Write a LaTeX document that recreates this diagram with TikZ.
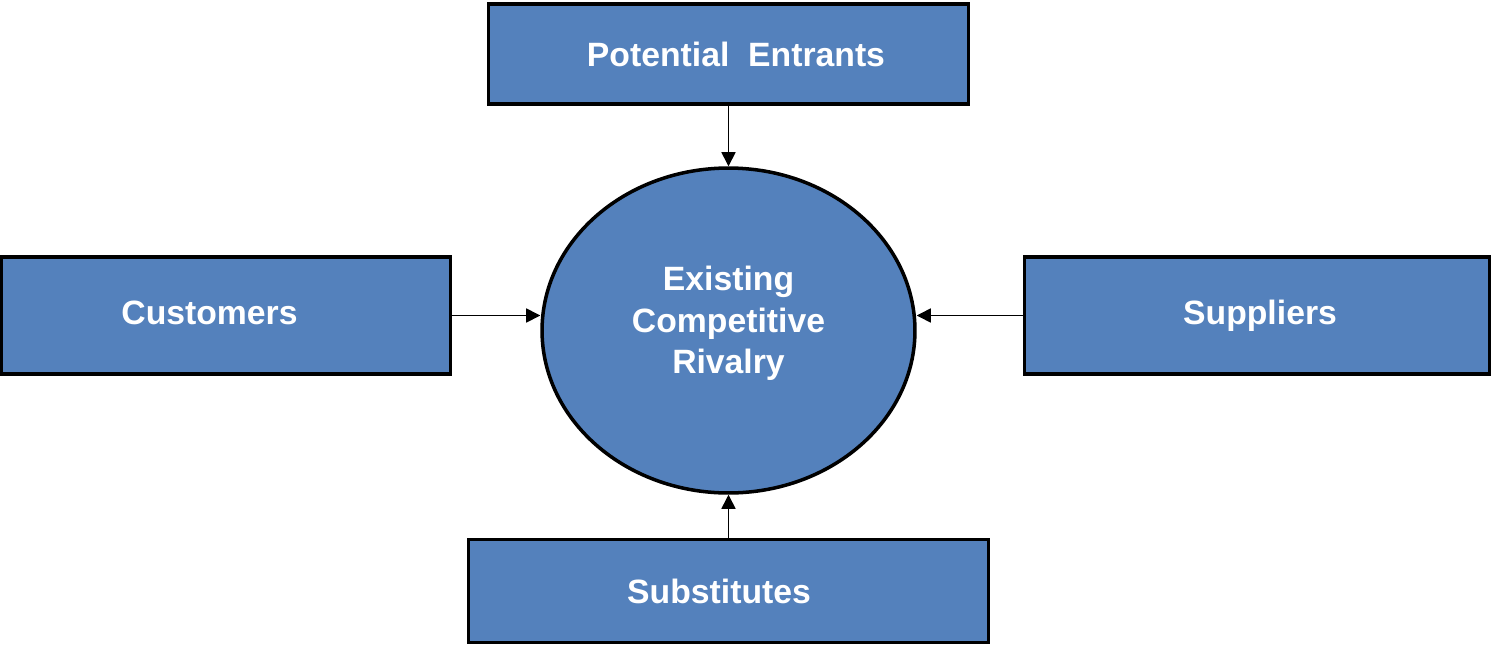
\documentclass[tikz,border=0pt]{standalone}
\usepackage{fontspec}
\setmainfont{Liberation Sans}
\usepackage{tikz}
\usetikzlibrary{shapes.geometric, arrows.meta}
\definecolor{forceblue}{RGB}{84,129,188}

\begin{document}
\begin{tikzpicture}[x=0.02cm, y=-0.02cm,
                    force/.style = {draw, rectangle, fill=forceblue, line width=2pt},
                    core/.style = {draw, ellipse, fill=forceblue, line width=2pt, inner sep=0pt},
                    forcetext/.style = {text=white, align=center, inner sep=0pt,
                                        font=\fontsize{19.2}{23.6}\selectfont\bfseries},
                    oneline/.style = {forcetext, text height=13.7pt, text depth=0pt},
                    push/.style = {line width=0.85pt, -{Triangle[length=8pt, width=8pt]}}]
    \useasboundingbox (0,0) rectangle (1493,646);
    \node[core, minimum width=7.46cm, minimum height=6.5cm,
          label={[forcetext, yshift=0.14cm]center:{Existing\\Competitive\\Rivalry}}] (rival) at (728.5,330.5) {};
    \node[force, minimum width=9.61cm, minimum height=2.01cm,
          label={[oneline, xshift=0.15cm]center:Potential\ \ Entrants}] (entr) at (728.5,54) {};
    \node[force, minimum width=8.98cm, minimum height=2.35cm,
          label={[oneline, xshift=-0.33cm, yshift=0.06cm]center:Customers}] (cust) at (226,315.5) {};
    \node[force, minimum width=9.30cm, minimum height=2.35cm,
          label={[oneline, xshift=0.06cm, yshift=0.06cm]center:Suppliers}] (supp) at (1257,315.5) {};
    \node[force, minimum width=10.4cm, minimum height=2.06cm,
          label={[oneline, xshift=-0.19cm]center:Substitutes}] (subs) at (728.5,591) {};

    \draw[push] (entr.south) -- (rival.north);
    \draw[push] (cust) -- (cust -| rival.west);
    \draw[push] (supp) -- (supp -| rival.east);
    \draw[push] (subs.north) -- (rival.south);
\end{tikzpicture}
\end{document}
